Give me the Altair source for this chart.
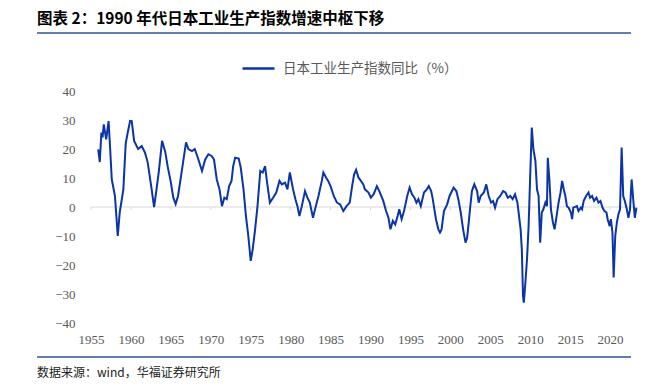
import altair as alt
import pandas as pd

# ---- data (decimal year, YoY %) ----
years = [
    1955.9, 1956.1, 1956.3, 1956.45, 1956.6, 1956.9, 1957.2, 1957.4, 1957.6, 1958.0,
    1958.35, 1958.6, 1959.05, 1959.35, 1959.6, 1959.9, 1960.1, 1960.4, 1960.9, 1961.35,
    1961.75, 1962.1, 1962.6, 1962.9, 1963.2, 1963.5, 1963.9, 1964.3, 1964.6, 1965.0,
    1965.3, 1965.6, 1965.9, 1966.4, 1966.9, 1967.2, 1967.65, 1968.0, 1968.45, 1968.9,
    1969.3, 1969.7, 1970.1, 1970.4, 1970.75, 1971.1, 1971.4, 1971.7, 1972.0, 1972.3,
    1972.6, 1972.8, 1973.05, 1973.5, 1973.75, 1974.1, 1974.4, 1974.7, 1975.0, 1975.25,
    1975.55, 1975.85, 1976.2, 1976.5, 1976.8, 1977.0, 1977.4, 1977.8, 1978.2, 1978.6,
    1978.9, 1979.3, 1979.6, 1979.9, 1980.3, 1980.6, 1980.85, 1981.1, 1981.4, 1981.8,
    1982.1, 1982.4, 1982.8, 1983.1, 1983.5, 1983.9, 1984.1, 1984.45, 1984.7, 1985.0,
    1985.4, 1985.8, 1986.2, 1986.6, 1987.0, 1987.4, 1987.7, 1987.95, 1988.2, 1988.5,
    1988.8, 1989.1, 1989.3, 1989.75, 1990.05, 1990.4, 1990.8, 1991.1, 1991.35, 1991.6,
    1991.95, 1992.25, 1992.5, 1992.8, 1993.1, 1993.4, 1993.6, 1993.9, 1994.2, 1994.6,
    1994.9, 1995.2, 1995.5, 1995.75, 1996.0, 1996.3, 1996.5, 1996.7, 1997.05, 1997.3,
    1997.6, 1997.8, 1998.0, 1998.2, 1998.5, 1998.7, 1998.9, 1999.2, 1999.6, 1999.9,
    2000.2, 2000.4, 2000.75, 2001.0, 2001.3, 2001.6, 2001.9, 2002.1, 2002.3, 2002.5,
    2002.7, 2003.0, 2003.35, 2003.55, 2003.8, 2004.2, 2004.5, 2004.8, 2005.1, 2005.35,
    2005.6, 2005.9, 2006.25, 2006.6, 2006.9, 2007.2, 2007.5, 2007.8, 2008.1, 2008.4,
    2008.6, 2008.8, 2008.95, 2009.1, 2009.2, 2009.4, 2009.6, 2009.8, 2010.0, 2010.2,
    2010.4, 2010.65, 2010.85, 2011.05, 2011.15, 2011.25, 2011.45, 2011.65, 2011.9, 2012.1,
    2012.2, 2012.4, 2012.6, 2012.85, 2013.05, 2013.25, 2013.55, 2013.8, 2014.0, 2014.2,
    2014.4, 2014.6, 2014.8, 2015.1, 2015.25, 2015.4, 2015.85, 2016.05, 2016.35, 2016.5,
    2016.7, 2017.0, 2017.3, 2017.5, 2017.75, 2018.0, 2018.3, 2018.55, 2018.8, 2019.05,
    2019.3, 2019.55, 2019.7, 2019.95, 2020.1, 2020.3, 2020.45, 2020.65, 2020.85, 2021.05,
    2021.25, 2021.45, 2021.65, 2021.85, 2022.1, 2022.3, 2022.5, 2022.7, 2022.9, 2023.1,
    2023.3,
]
values = [
    19.9, 15.5, 25.7, 24.0, 28.5, 23.3, 29.6, 20.0, 9.5, 3.8,
    -10.0, -1.8, 6.0, 22.0, 25.7, 29.7, 29.6, 22.8, 20.0, 21.0,
    18.8, 15.4, 6.0, 0.0, 6.0, 12.4, 22.8, 19.0, 14.0, 8.5,
    3.3, 1.0, 3.8, 13.0, 22.3, 20.0, 19.3, 20.0, 16.4, 12.4,
    16.4, 18.2, 17.6, 16.4, 9.5, 6.0, 0.3, 3.2, 2.7, 7.2,
    9.0, 14.0, 17.0, 16.7, 13.6, 6.1, -3.1, -10.0, -18.6, -14.6,
    -7.7, 0.3, 12.4, 11.9, 14.1, 9.5, 1.5, 3.2, 5.0, 9.0,
    7.8, 8.4, 6.1, 11.9, 6.1, 2.7, 0.3, -3.1, 0.3, 5.5,
    3.2, 1.5, -3.7, -0.3, 4.0, 9.0, 11.9, 10.1, 9.0, 7.2,
    3.8, 1.5, 0.9, -1.4, 0.3, 1.5, 7.2, 11.3, 12.8, 10.1,
    9.0, 7.8, 6.1, 5.0, 3.2, 4.4, 7.2, 5.5, 3.8, 2.1,
    -1.4, -3.7, -7.7, -4.8, -6.0, -3.1, -0.8, -4.2, -1.4, 3.8,
    6.7, 4.4, 3.2, 1.5, 2.7, 0.3, 2.7, 5.0, 6.1, 7.2,
    5.5, 2.7, -0.8, -4.2, -7.7, -8.8, -7.7, -1.4, 0.9, 3.8,
    5.5, 6.7, 5.5, 2.7, -1.9, -7.7, -12.3, -10.6, -5.4, 0.3,
    5.5, 7.8, 5.5, 1.5, 3.8, 5.0, 7.8, 3.8, 1.5, 2.1,
    -0.2, 2.7, 3.8, 5.5, 5.0, 3.2, 3.8, 2.7, 4.4, 1.5,
    -3.1, -7.7, -14.6, -30.7, -33.0, -26.0, -18.0, -6.6, 10.7, 27.4,
    19.9, 15.9, 6.1, 3.8, -4.2, -12.3, -1.9, -0.8, 1.5, 0.3,
    17.0, 9.5, -0.8, -5.4, -7.7, -4.2, 1.5, 5.0, 9.0, 6.1,
    3.8, 0.3, -0.2, -1.9, -4.2, -0.2, 0.3, -1.4, -0.2, -0.8,
    2.1, 3.8, 5.0, 3.2, 3.8, 2.1, 3.2, 1.5, 2.1, -0.2,
    -1.4, -1.9, -4.2, -6.6, -4.2, -8.8, -24.3, -10.0, -5.4, -2.5,
    -0.8, 20.5, 3.8, 2.1, -0.8, -3.7, -0.8, 9.5, 2.7, -3.7,
    -0.2,
]
tick_years = list(range(1955, 2021, 5))
y_ticks = list(range(-40, 41, 10))
series_name = "日本工业生产指数同比（%）"
title_text = "图表 2：1990 年代日本工业生产指数增速中枢下移"
source_text = "数据来源：wind，华福证券研究所"

BLUE = "#0B34A6"
DECO_BLUE = "#2F5597"
W, H = 551, 232
X_DOMAIN = [1955, 2024]

df = pd.DataFrame({"year": years, "value": values, "series": series_name})
zero_df = pd.DataFrame({"year": [1955], "year2": [2023.3], "value": [0]})
tick_df = pd.DataFrame({"year": tick_years, "value": [0] * len(tick_years)})

x_enc = alt.X(
    "year:Q",
    scale=alt.Scale(domain=X_DOMAIN, nice=False, zero=False),
    axis=alt.Axis(
        values=tick_years, format="d", domain=False, ticks=False, tickSize=0,
        grid=False, labelPadding=10, labelFlush=False, labelOverlap=False,
        labelFont="Liberation Serif", labelFontSize=13, labelColor="#595959",
        title=None,
    ),
)
y_enc = alt.Y(
    "value:Q",
    scale=alt.Scale(domain=[-40, 40], nice=False, zero=False),
    axis=alt.Axis(
        values=y_ticks, domain=False, ticks=False, tickSize=0, grid=False,
        labelPadding=16, labelFont="Liberation Serif", labelFontSize=13,
        labelColor="#595959", title=None,
    ),
)

zero_line = alt.Chart(zero_df).mark_rule(color="#d9d9d9", strokeWidth=1).encode(
    x=x_enc, x2="year2:Q", y=y_enc
)
ticks = alt.Chart(tick_df).mark_rule(color="#d9d9d9", strokeWidth=1).encode(
    x=x_enc, y=y_enc, y2=alt.value(H / 2 + 3)
)
line = alt.Chart(df).mark_line(strokeWidth=2).encode(
    x=x_enc,
    y=y_enc,
    color=alt.Color(
        "series:N",
        scale=alt.Scale(domain=[series_name], range=[BLUE]),
        legend=alt.Legend(
            orient="none", legendX=150, legendY=-40, title=None,
            symbolType="stroke", symbolSize=1024, symbolStrokeWidth=2.5,
            labelFont="Noto Sans CJK SC", labelFontSize=13.5, labelLimit=400,
            labelColor="#595959", labelOffset=7,
        ),
    ),
)

one = pd.DataFrame({"t": [title_text], "s": [source_text]})
title = alt.Chart(one).mark_text(
    align="left", baseline="middle", font="Noto Sans CJK SC",
    fontSize=15.5, fontWeight="bold", color="#000000",
).encode(x=alt.value(-54), y=alt.value(-72.5), text="t:N")
top_rule = alt.Chart(one).mark_rule(color=DECO_BLUE, strokeWidth=1.5).encode(
    x=alt.value(-54), x2=alt.value(540), y=alt.value(-58)
)
bottom_rule = alt.Chart(one).mark_rule(color=DECO_BLUE, strokeWidth=1.5).encode(
    x=alt.value(-54), x2=alt.value(540), y=alt.value(266)
)
source = alt.Chart(one).mark_text(
    align="left", baseline="middle", font="Noto Sans CJK SC",
    fontSize=12, color="#222222",
).encode(x=alt.value(-54), y=alt.value(282), text="s:N")

chart = alt.layer(
    zero_line, ticks, line, title, top_rule, bottom_rule, source
).properties(
    width=W, height=H,
    padding={"left": 83, "top": 83, "right": 18, "bottom": 56},
    autosize=alt.AutoSizeParams(type="none"),
).configure_view(stroke=None)

chart.save("out.html", embed_options={"renderer": "svg", "actions": False})
